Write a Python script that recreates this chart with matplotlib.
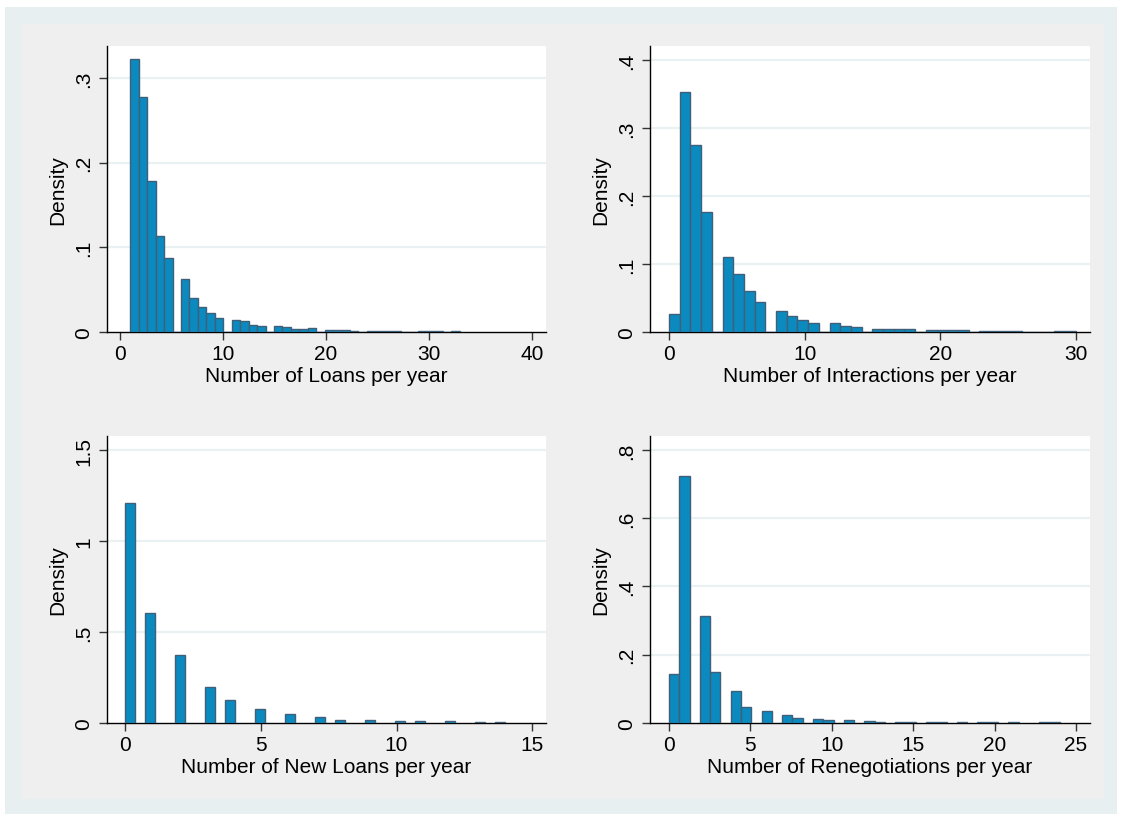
import matplotlib
matplotlib.use("Agg")
import matplotlib.pyplot as plt
from matplotlib.patches import Rectangle
from matplotlib.ticker import FuncFormatter

plt.rcParams['font.family'] = ['Liberation Sans', 'DejaVu Sans']

# ---------------- data (bin heights, density) ----------------
loans_start = 1.0
loans_width = 32.0 / 39
loans_density = [0.323, 0.278, 0.179, 0.113, 0.0869, 0.0, 0.0628, 0.0407, 0.0296, 0.0221,
                 0.0162, 0.0, 0.0138, 0.0130, 0.0083, 0.0075, 0.0, 0.0067, 0.0059, 0.0035,
                 0.0039, 0.0043, 0.0, 0.0028, 0.0024, 0.0024, 0.0016, 0.0, 0.0012, 0.0016,
                 0.0012, 0.0012, 0.0, 0.0, 0.0012, 0.0012, 0.0008, 0.0, 0.0012]
loans_xticks = [0, 10, 20, 30, 40]
loans_yticks = [0, 0.1, 0.2, 0.3]

inter_start = 0.0
inter_width = 30.0 / 38
inter_density = [0.027, 0.3535, 0.2754, 0.1767, 0.0, 0.1105, 0.0859, 0.0604, 0.0447, 0.0,
                 0.0304, 0.0231, 0.0177, 0.0138, 0.0, 0.0138, 0.0081, 0.0069, 0.0, 0.0051,
                 0.0037, 0.0049, 0.0041, 0.0, 0.0035, 0.0026, 0.0026, 0.0026, 0.0, 0.0018,
                 0.0022, 0.0014, 0.0014, 0.0, 0.0, 0.0, 0.0012, 0.0012]
inter_xticks = [0, 10, 20, 30]
inter_yticks = [0, 0.1, 0.2, 0.3, 0.4]

new_start = 0.0
new_width = 14.0 / 38
new_values = [0, 1, 2, 3, 4, 5, 6, 7, 8, 9, 10, 11, 12, 13, 14]
new_density = [1.211, 0.603, 0.372, 0.196, 0.126, 0.077, 0.050, 0.034, 0.017, 0.017,
               0.013, 0.009, 0.009, 0.007, 0.007]
new_xticks = [0, 5, 10, 15]
new_yticks = [0, 0.5, 1.0, 1.5]

reneg_start = 0.0
reneg_width = 24.0 / 38
reneg_values = [0, 1, 2, 3, 4, 5, 6, 7, 8, 9, 10, 11, 12, 13, 14, 15, 16, 17, 18, 19, 20, 21, 23, 24]
reneg_density = [0.145, 0.724, 0.315, 0.149, 0.095, 0.048, 0.035, 0.0225, 0.0147, 0.0127,
                 0.0078, 0.0078, 0.0049, 0.0029, 0.0029, 0.0029, 0.003, 0.002, 0.002, 0.002,
                 0.0029, 0.002, 0.002, 0.002]
reneg_xticks = [0, 5, 10, 15, 20, 25]
reneg_yticks = [0, 0.2, 0.4, 0.6, 0.8]

xlabels = ["Number of Loans per year", "Number of Interactions per year",
           "Number of New Loans per year", "Number of Renegotiations per year"]

# ---------------- style ----------------
BAR = '#0b8ac0'
EDGE = '#3f6079'
GRID = '#e9f1f3'
GRAY = '#efefef'
BLUEGRAY = '#e8eff1'
FS = 15

W, H = 1122, 820
fig = plt.figure(figsize=(W / 100, H / 100), dpi=100, facecolor='white')

def frac_rect(x0, y0, x1, y1):
    return (x0 / W, 1 - y1 / H, (x1 - x0) / W, (y1 - y0) / H)

r = frac_rect(5, 8, 1117, 815)
fig.patches.append(Rectangle((r[0], r[1]), r[2], r[3], transform=fig.transFigure,
                             facecolor=BLUEGRAY, edgecolor='none', zorder=-2))
r = frac_rect(22, 25, 1104, 800)
fig.patches.append(Rectangle((r[0], r[1]), r[2], r[3], transform=fig.transFigure,
                             facecolor=GRAY, edgecolor='none', zorder=-1))


def fmt(v, pos):
    if abs(v) < 1e-9:
        return "0"
    s = ("%g" % v)
    if s.startswith("0."):
        s = s[1:]
    return s


def panel(box, lefts, heights, width, xlim, ylim, xticks, yticks, xlabel):
    ax = fig.add_axes(frac_rect(*box))
    ax.set_facecolor('white')
    ax.bar(lefts, heights, width=width, align='edge', color=BAR, edgecolor=EDGE,
           linewidth=1.0, zorder=3)
    ax.set_xlim(*xlim)
    ax.set_ylim(*ylim)
    ax.set_xticks(xticks)
    ax.set_yticks(yticks)
    ax.yaxis.set_major_formatter(FuncFormatter(fmt))
    for t in yticks:
        if t > 0:
            ax.axhline(t, color=GRID, linewidth=1.6, zorder=1)
    for s in ['top', 'right']:
        ax.spines[s].set_visible(False)
    for s in ['left', 'bottom']:
        ax.spines[s].set_linewidth(1.0)
        ax.spines[s].set_color('black')
    ax.tick_params(axis='x', direction='out', length=6, width=1.0, color='#333333',
                   labelsize=FS, pad=2.5)
    ax.tick_params(axis='y', direction='out', length=6, width=1.0, color='#333333',
                   labelsize=FS, pad=4)
    for lab in ax.get_yticklabels():
        lab.set_rotation(90)
        lab.set_va('center')
    ax.set_xlabel(xlabel, fontsize=FS, labelpad=2)
    ax.set_ylabel("Density", fontsize=FS, labelpad=5)
    return ax


panel((107, 47, 546, 333),
      [loans_start + i * loans_width for i in range(len(loans_density))],
      loans_density, loans_width, (-1.26, 41.36), (0, 0.338),
      loans_xticks, loans_yticks, xlabels[0])

panel((650, 47, 1090, 333),
      [inter_start + i * inter_width for i in range(len(inter_density))],
      inter_density, inter_width, (-1.4, 31.05), (0, 0.4208),
      inter_xticks, inter_yticks, xlabels[1])


def bin_left(v, start, width, nb):
    k = min(int((v - start) / width + 1e-9), nb - 1)
    return start + k * width


panel((107, 437, 546, 724),
      [bin_left(v, new_start, new_width, 38) for v in new_values],
      new_density, new_width, (-0.674, 15.51), (0, 1.577),
      new_xticks, new_yticks, xlabels[2])

panel((650, 437, 1090, 724),
      [bin_left(v, reneg_start, reneg_width, 38) for v in reneg_values],
      reneg_density, reneg_width, (-1.167, 25.86), (0, 0.841),
      reneg_xticks, reneg_yticks, xlabels[3])

fig.savefig("out.png", dpi=100, facecolor='white')
